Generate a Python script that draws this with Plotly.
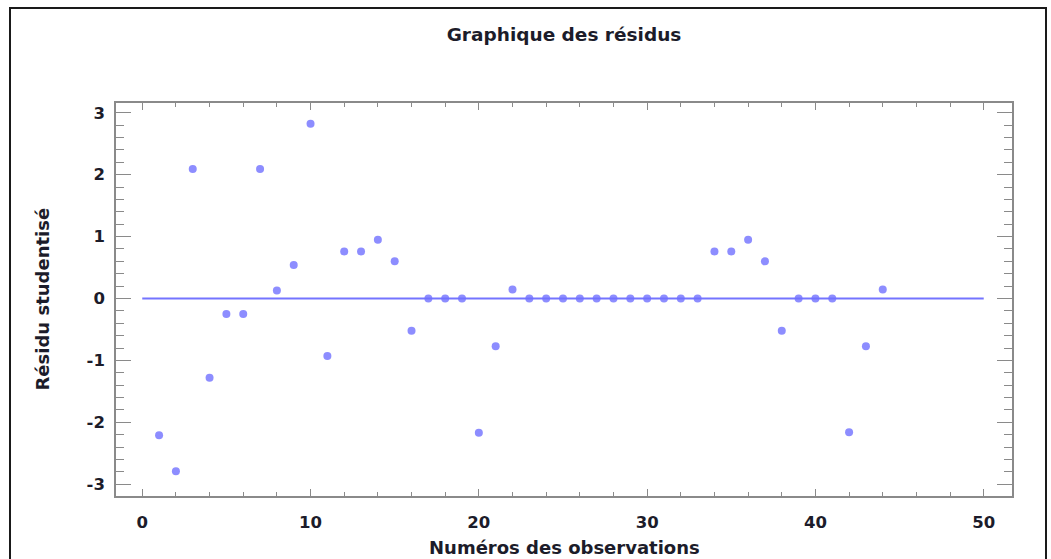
import plotly.graph_objects as go

# Observation numbers and studentized residuals
observations = list(range(1, 45))
residuals = [
    -2.21, -2.79, 2.09, -1.28, -0.25, -0.25, 2.09, 0.13, 0.54, 2.82,
    -0.93, 0.76, 0.76, 0.95, 0.60, -0.52, 0.0, 0.0, 0.0, -2.17,
    -0.77, 0.145, 0.0, 0.0, 0.0, 0.0, 0.0, 0.0, 0.0, 0.0,
    0.0, 0.0, 0.0, 0.76, 0.76, 0.95, 0.60, -0.52, 0.0, 0.0,
    0.0, -2.16, -0.77, 0.145,
]
ref_x = [0, 50]
ref_y = [0, 0]

x_ticks = [0, 10, 20, 30, 40, 50]
x_tick_labels = ["0", "10", "20", "30", "40", "50"]
y_ticks = [-3, -2, -1, 0, 1, 2, 3]
y_tick_labels = ["-3", "-2", "-1", "0", "1", "2", "3"]

FONT = "DejaVu Sans"
TEXT = "#1c1c2a"
FRAME = "#8a8a8a"

fig = go.Figure()
fig.add_trace(go.Scatter(
    x=ref_x, y=ref_y, mode="lines",
    line=dict(color="#7474ff", width=2),
    hoverinfo="skip", showlegend=False,
))
fig.add_trace(go.Scatter(
    x=observations, y=residuals, mode="markers",
    marker=dict(size=8, color="rgba(112,112,255,0.8)", line=dict(width=0)),
    showlegend=False,
))

fig.update_layout(
    width=1051, height=559,
    margin=dict(l=116, r=39, t=103, b=63),
    paper_bgcolor="white", plot_bgcolor="white",
    font=dict(family=FONT, color=TEXT, size=15),
    title=dict(
        text="Graphique des résidus",
        x=564 / 1051, xanchor="center",
        y=1 - 35 / 559, yanchor="middle", yref="container",
        font=dict(family=FONT, size=18.5, weight="bold", color=TEXT),
    ),
    xaxis=dict(
        range=[-1.56, 51.68], tickvals=x_ticks, ticktext=x_tick_labels,
        showgrid=False, zeroline=False,
        showline=True, linecolor=FRAME, linewidth=1.5, mirror="allticks",
        ticks="inside", ticklen=7, tickcolor=FRAME, tickwidth=1,
        minor=dict(dtick=2, ticks="inside", ticklen=4, tickcolor=FRAME, tickwidth=1),
        ticklabelstandoff=10,
        tickfont=dict(family=FONT, size=16.5, weight="bold", color=TEXT),
    ),
    yaxis=dict(
        range=[-3.19, 3.157], tickvals=y_ticks, ticktext=y_tick_labels,
        showgrid=False, zeroline=False,
        showline=True, linecolor=FRAME, linewidth=1.5, mirror="allticks",
        ticks="inside", ticklen=15, tickcolor=FRAME, tickwidth=1,
        minor=dict(dtick=0.2, ticks="inside", ticklen=8, tickcolor=FRAME, tickwidth=1),
        ticklabelstandoff=6,
        tickfont=dict(family=FONT, size=16.5, weight="bold", color=TEXT),
    ),
    annotations=[
        dict(text="Numéros des observations", xref="paper", yref="paper",
             x=0.5, y=(496 - 547) / 393, xanchor="center", yanchor="middle",
             showarrow=False, font=dict(family=FONT, size=18, weight="bold", color=TEXT)),
        dict(text="Résidu studentisé", xref="paper", yref="paper",
             x=(42 - 116) / 896, y=0.5, xanchor="center", yanchor="middle",
             textangle=-90, showarrow=False,
             font=dict(family=FONT, size=18, weight="bold", color=TEXT)),
    ],
    shapes=[
        dict(type="rect", xref="paper", yref="paper",
             x0=(10 - 116) / 896, x1=(1046 - 116) / 896,
             y0=(496 - 570) / 393, y1=(496 - 8) / 393,
             line=dict(color="#1a1a1a", width=2), fillcolor="rgba(0,0,0,0)",
             layer="below"),
    ],
)

fig.write_html("out.html")
